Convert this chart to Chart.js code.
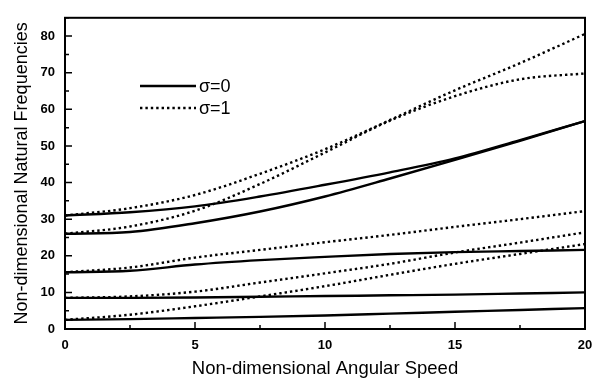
<!DOCTYPE html>
<html>
<head>
<meta charset="utf-8">
<script src="https://cdn.jsdelivr.net/npm/chart.js@4.4.0/dist/chart.umd.min.js"></script>
<style>
  html, body { margin: 0; padding: 0; background: #fff; }
  canvas { display: block; }
</style>
</head>
<body>
<canvas id="myChart" width="602" height="381"></canvas>
<script>
// angular speed samples
var speeds = [0, 2.5, 5, 7.5, 10, 12.5, 15, 17.5, 20];

// sigma = 0 (solid)
var s0_mode1 = [2.5, 2.7, 3.0, 3.3, 3.7, 4.2, 4.7, 5.2, 5.7];
var s0_mode2 = [8.5, 8.5, 8.6, 8.8, 9.0, 9.2, 9.4, 9.7, 10.0];
var s0_mode3 = [15.5, 15.9, 17.6, 18.8, 19.7, 20.5, 21.0, 21.3, 21.6];
var s0_mode4 = [26.0, 26.5, 28.9, 32.1, 36.2, 41.1, 46.2, 51.4, 56.8];
var s0_mode5 = [31.0, 31.9, 33.5, 36.2, 39.4, 42.8, 46.6, 51.6, 56.8];

// sigma = 1 (dotted)
var s1_mode1 = [2.5, 3.9, 6.2, 8.9, 11.7, 14.8, 17.8, 20.5, 23.2];
var s1_mode2 = [8.5, 8.9, 10.2, 12.7, 15.2, 17.8, 20.9, 23.6, 26.4];
var s1_mode3 = [15.5, 16.8, 19.5, 21.6, 23.7, 25.7, 27.9, 30.0, 32.2];
var s1_mode4 = [26.0, 28.0, 32.3, 39.6, 48.2, 56.9, 63.6, 68.2, 69.8];
var s1_mode5 = [31.0, 33.0, 36.6, 42.4, 49.1, 57.1, 65.2, 72.6, 80.6];

var legendLabels = ['\u03c3=0', '\u03c3=1'];
var xTitle = 'Non-dimensional Angular Speed';
var yTitle = 'Non-dimensional Natural Frequencies';

function pts(ys) {
    return ys.map(function(v, i){ return {x: speeds[i], y: v}; });
}

var solidStyle = { borderColor: '#000', borderWidth: 2.4, borderDash: [] };
var dotStyle = { borderColor: '#000', borderWidth: 2.4, borderDash: [2.4, 3] };

function ds(ys, style) {
    return {
        data: pts(ys),
        borderColor: style.borderColor,
        borderWidth: style.borderWidth,
        borderDash: style.borderDash,
        pointRadius: 0,
        fill: false,
        cubicInterpolationMode: 'monotone'
    };
}

var datasets = [
    ds(s0_mode1, solidStyle), ds(s0_mode2, solidStyle), ds(s0_mode3, solidStyle),
    ds(s0_mode4, solidStyle), ds(s0_mode5, solidStyle),
    ds(s1_mode1, dotStyle), ds(s1_mode2, dotStyle), ds(s1_mode3, dotStyle),
    ds(s1_mode4, dotStyle), ds(s1_mode5, dotStyle)
];

// frame box + inward ticks like the original plot
var frameTicks = {
    id: 'frameTicks',
    afterDatasetsDraw: function(chart) {
        var ctx = chart.ctx, a = chart.chartArea;
        var x = chart.scales.x, y = chart.scales.y;
        ctx.save();
        ctx.strokeStyle = '#000';
        ctx.lineWidth = 2;
        ctx.strokeRect(a.left, a.top, a.right - a.left, a.bottom - a.top);
        ctx.lineWidth = 1.5;
        ctx.beginPath();
        for (var u = 0; u <= 20; u += 2.5) {
            var px = x.getPixelForValue(u);
            var len = (u % 5 === 0) ? 7 : 4;
            ctx.moveTo(px, a.bottom);
            ctx.lineTo(px, a.bottom - len);
        }
        for (var v = 0; v <= 85; v += 5) {
            var py = y.getPixelForValue(v);
            var l = (v % 10 === 0) ? 7 : 4;
            ctx.moveTo(a.left, py);
            ctx.lineTo(a.left + l, py);
        }
        ctx.stroke();
        ctx.restore();
    }
};

// legend sitting inside the plot
var innerLegend = {
    id: 'innerLegend',
    afterDatasetsDraw: function(chart) {
        var ctx = chart.ctx;
        var styles = [solidStyle, dotStyle];
        var rows = [86, 108];
        ctx.save();
        for (var i = 0; i < 2; i++) {
            ctx.strokeStyle = '#000';
            ctx.lineWidth = styles[i].borderWidth;
            ctx.setLineDash(styles[i].borderDash);
            ctx.beginPath();
            ctx.moveTo(140, rows[i]);
            ctx.lineTo(196, rows[i]);
            ctx.stroke();
            ctx.setLineDash([]);
            ctx.fillStyle = '#000';
            ctx.font = '18px "Liberation Sans", Arial, sans-serif';
            ctx.textBaseline = 'middle';
            ctx.textAlign = 'left';
            ctx.fillText(legendLabels[i], 199, rows[i] + 1);
        }
        ctx.restore();
    }
};

var ctx = document.getElementById('myChart').getContext('2d');
var chart = new Chart(ctx, {
    type: 'line',
    data: { datasets: datasets },
    plugins: [frameTicks, innerLegend],
    options: {
        responsive: false,
        animation: false,
        layout: { padding: { left: 0, right: 17, top: 11, bottom: 0 } },
        plugins: { legend: { display: false }, tooltip: { enabled: false } },
        scales: {
            x: {
                type: 'linear',
                min: 0, max: 20,
                grid: { display: false, drawTicks: false },
                border: { display: false },
                ticks: {
                    stepSize: 5, padding: 9, color: '#000',
                    font: { family: '"Liberation Sans", Arial, sans-serif', size: 13, weight: 'bold' }
                },
                title: {
                    display: true, text: xTitle, color: '#000',
                    font: { family: '"Liberation Sans", Arial, sans-serif', size: 18.5 },
                    padding: { top: 6, bottom: 1 }
                },
                afterFit: function(s) { s.height = 52; }
            },
            y: {
                min: 0, max: 85,
                grid: { display: false, drawTicks: false },
                border: { display: false },
                ticks: {
                    stepSize: 10, padding: 10, color: '#000',
                    font: { family: '"Liberation Sans", Arial, sans-serif', size: 13, weight: 'bold' },
                    callback: function(v) { return v % 10 === 0 ? v : ''; }
                },
                title: {
                    display: true, text: yTitle, color: '#000',
                    font: { family: '"Liberation Sans", Arial, sans-serif', size: 18 },
                    padding: { top: 11, bottom: 4 }
                },
                afterFit: function(s) { s.width = 65; }
            }
        }
    }
});
</script>
</body>
</html>
